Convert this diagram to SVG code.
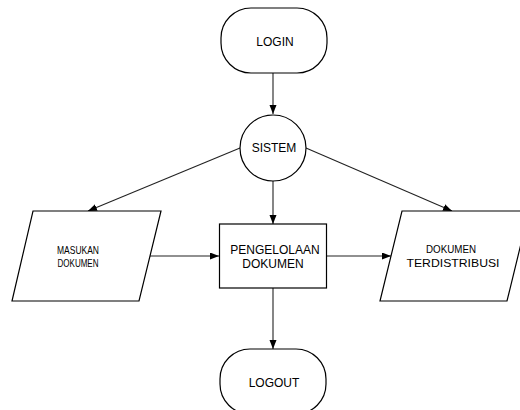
<svg xmlns="http://www.w3.org/2000/svg" width="520" height="410" viewBox="0 0 520 410">
<style>
.shape{fill:#fff;stroke:#000;stroke-width:1.2}
.conn{fill:none;stroke:#222;stroke-width:1.1}
text{font-family:"Liberation Sans",Arial,sans-serif;font-size:12px;fill:#000;text-anchor:middle}
.small{font-size:11px}
</style>
<defs>
<marker id="arr" markerUnits="userSpaceOnUse" markerWidth="10" markerHeight="8" refX="9" refY="3.5" orient="auto">
<path d="M0,0 L9,3.5 L0,7 z" fill="#000"/>
</marker>
</defs>
<rect width="520" height="410" fill="#fff"/>
<g id="connectors">
<line class="conn" x1="273" y1="73" x2="273" y2="114" marker-end="url(#arr)"/>
<line class="conn" x1="240" y1="148" x2="88" y2="211" marker-end="url(#arr)"/>
<line class="conn" x1="306" y1="148" x2="452" y2="211" marker-end="url(#arr)"/>
<line class="conn" x1="273" y1="181" x2="273" y2="224" marker-end="url(#arr)"/>
<line class="conn" x1="150" y1="256" x2="219" y2="256" marker-end="url(#arr)"/>
<line class="conn" x1="327" y1="256" x2="391" y2="256" marker-end="url(#arr)"/>
<line class="conn" x1="273" y1="288" x2="273" y2="349" marker-end="url(#arr)"/>
</g>
<g id="login">
<rect class="shape" x="221" y="8" width="106" height="65" rx="30" ry="30"/>
<text x="275" y="46">LOGIN</text>
</g>
<g id="sistem">
<circle class="shape" cx="273" cy="148" r="33"/>
<text x="274" y="152">SISTEM</text>
</g>
<g id="masukan">
<polygon class="shape" points="33,211 161,211 139,301 12,301"/>
<text class="small" x="78" y="254" textLength="42" lengthAdjust="spacingAndGlyphs">MASUKAN</text>
<text class="small" x="78" y="267" textLength="41" lengthAdjust="spacingAndGlyphs">DOKUMEN</text>
</g>
<g id="pengelolaan">
<rect class="shape" x="219.5" y="224" width="107" height="64"/>
<text x="275" y="254">PENGELOLAAN</text>
<text x="273" y="268">DOKUMEN</text>
</g>
<g id="terdistribusi">
<polygon class="shape" points="402,211 529,211 507,301 380,301"/>
<text class="small" x="451" y="253" textLength="50" lengthAdjust="spacingAndGlyphs">DOKUMEN</text>
<text class="small" x="453" y="267" textLength="93" lengthAdjust="spacingAndGlyphs">TERDISTRIBUSI</text>
</g>
<g id="logout">
<rect class="shape" x="220" y="349" width="106" height="65" rx="30" ry="30"/>
<text x="274" y="387">LOGOUT</text>
</g>
</svg>
